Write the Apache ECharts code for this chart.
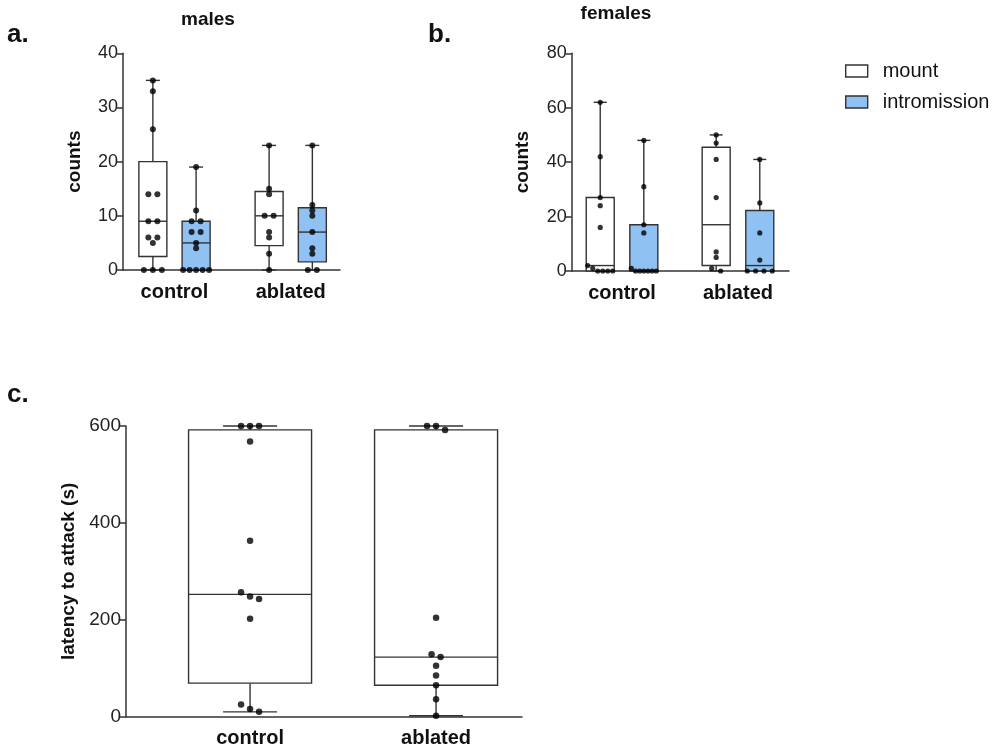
<!DOCTYPE html>
<html><head><meta charset="utf-8">
<script src="https://cdn.jsdelivr.net/npm/echarts@6/dist/echarts.min.js"></script>
<style>html,body{margin:0;padding:0;background:#fff}#c{width:1000px;height:754px}</style>
</head><body><div id="c"></div>
<script>
// ---------- data ----------
const groupNames = ['control', 'ablated'];
const seriesNames = ['mount', 'intromission'];

const malesTicks = [0, 10, 20, 30, 40];
const femalesTicks = [0, 20, 40, 60, 80];
const latencyTicks = [0, 200, 400, 600];

const malesControlMount = [35, 33, 26, 14, 14, 9, 9, 6, 6, 5, 0, 0, 0];
const malesControlIntro = [19, 11, 9, 9, 7, 7, 5, 4, 0, 0, 0, 0, 0];
const malesAblatedMount = [23, 15, 14, 10, 10, 7, 6, 3, 0];
const malesAblatedIntro = [23, 12, 11, 10, 7, 4, 3, 0, 0];

const femalesControlMount = [62, 42, 27, 24, 16, 2, 1, 0, 0, 0, 0];
const femalesControlIntro = [48, 31, 17, 14, 1, 0, 0, 0, 0, 0, 0];
const femalesAblatedMount = [50, 47, 41, 27, 7, 5, 1, 0];
const femalesAblatedIntro = [41, 25, 14, 4, 0, 0, 0, 0];

const latencyControl = [600, 600, 600, 568, 363, 257, 248, 243, 202, 25, 16, 10];
const latencyAblated = [600, 600, 592, 204, 129, 123, 105, 85, 65, 36, 2];

// ---------- helpers ----------
const FONT = "'Liberation Sans', Arial, sans-serif";
const INK = '#333';
const BLUE = '#8fc2f3';

function pct(sorted, p) { // (n+1)p percentile
  const n = sorted.length;
  const pos = (n + 1) * p;
  if (pos <= 1) return sorted[0];
  if (pos >= n) return sorted[n - 1];
  const lo = Math.floor(pos), f = pos - lo;
  return sorted[lo - 1] + f * (sorted[lo] - sorted[lo - 1]);
}
function stats(vals, x) {
  const s = vals.slice().sort((a, b) => a - b);
  return [x, s[0], pct(s, 0.25), pct(s, 0.5), pct(s, 0.75), s[s.length - 1]];
}
function swarm(values, center, pxX, pxY, tolPx, spacePx, maxSpreadPx) {
  const sorted = values.slice().sort((a, b) => b - a);
  const clusters = []; let cur = [];
  sorted.forEach(v => {
    if (cur.length && Math.abs(cur[cur.length - 1] - v) * pxY >= tolPx) { clusters.push(cur); cur = []; }
    cur.push(v);
  });
  if (cur.length) clusters.push(cur);
  const pts = [];
  clusters.forEach(cl => {
    const k = cl.length;
    const s = k > 1 ? Math.min(spacePx, maxSpreadPx / (k - 1)) : 0;
    cl.forEach((v, i) => pts.push([center + (i - (k - 1) / 2) * s / pxX, v]));
  });
  return pts;
}
function boxRender(boxW, capW, fill) {
  return function (params, api) {
    const x = api.value(0);
    const ys = [1, 2, 3, 4, 5].map(i => api.coord([x, api.value(i)])[1]);
    const cx = api.coord([x, 0])[0];
    const [pMin, pQ1, pMed, pQ3, pMax] = ys;
    const st = { stroke: INK, lineWidth: 1.4 };
    return {
      type: 'group', children: [
        { type: 'line', shape: { x1: cx, y1: pMin, x2: cx, y2: pQ1 }, style: st },
        { type: 'line', shape: { x1: cx, y1: pQ3, x2: cx, y2: pMax }, style: st },
        { type: 'line', shape: { x1: cx - capW / 2, y1: pMin, x2: cx + capW / 2, y2: pMin }, style: st },
        { type: 'line', shape: { x1: cx - capW / 2, y1: pMax, x2: cx + capW / 2, y2: pMax }, style: st },
        { type: 'rect', shape: { x: cx - boxW / 2, y: pQ3, width: boxW, height: pQ1 - pQ3 }, style: { fill: fill, stroke: INK, lineWidth: 1.4 } },
        { type: 'line', shape: { x1: cx - boxW / 2, y1: pMed, x2: cx + boxW / 2, y2: pMed }, style: st }
      ]
    };
  };
}

// ---------- layout ----------
const panels = [
  { grid: { left: 123, top: 53.3, width: 217, height: 216.7 }, xmin: 0.557, xmax: 2.424, ticks: malesTicks, name: 'counts', off: 0.186,
    boxW: 28, capW: 14, dot: 6, space: 9, spread: 26,
    sets: [[malesControlMount, malesAblatedMount], [malesControlIntro, malesAblatedIntro]] },
  { grid: { left: 571.7, top: 53.3, width: 217.3, height: 217.7 }, xmin: 0.566, xmax: 2.44, ticks: femalesTicks, name: 'counts', off: 0.188,
    boxW: 28, capW: 13, dot: 5.2, space: 9, spread: 25,
    sets: [[femalesControlMount, femalesAblatedMount], [femalesControlIntro, femalesAblatedIntro]] },
  { grid: { left: 126, top: 426, width: 396, height: 290.7 }, xmin: 0.333, xmax: 2.462, ticks: latencyTicks, name: 'latency to attack (s)', off: 0,
    boxW: 123, capW: 54, dot: 6.5, space: 9, spread: 60,
    sets: [[latencyControl, latencyAblated]] }
];

const grids = [], xAxes = [], yAxes = [], series = [];
const axisLineStyle = { color: INK, width: 1.5 };
panels.forEach((p, pi) => {
  grids.push(p.grid);
  const tmax = p.ticks[p.ticks.length - 1];
  xAxes.push({
    gridIndex: pi, type: 'value', min: p.xmin, max: p.xmax,
    axisLine: { show: true, onZero: false, lineStyle: axisLineStyle },
    axisTick: { show: false }, splitLine: { show: false },
    axisLabel: { customValues: [1, 2], formatter: v => groupNames[Math.round(v) - 1],
      fontSize: 20, fontWeight: 'bold', color: '#111', margin: 12, fontFamily: FONT }
  });
  yAxes.push({
    gridIndex: pi, type: 'value', min: p.ticks[0], max: tmax, interval: p.ticks[1] - p.ticks[0],
    axisLine: { show: true, lineStyle: axisLineStyle },
    axisTick: { show: true, length: 6, lineStyle: axisLineStyle }, splitLine: { show: false },
    axisLabel: { fontSize: pi === 2 ? 19 : 18, color: '#222', margin: 5, fontFamily: FONT },
    name: p.name, nameLocation: 'middle', nameGap: pi === 2 ? 48 : 39,
    nameTextStyle: { fontSize: 19, fontWeight: 'bold', color: '#111', fontFamily: FONT }
  });
  const pxX = p.grid.width / (p.xmax - p.xmin);
  const pxY = p.grid.height / (tmax - p.ticks[0]);
  p.sets.forEach((pair, si) => {
    const offset = p.sets.length === 2 ? (si === 0 ? -p.off : p.off) : 0;
    const fill = (pi < 2 && si === 1) ? BLUE : '#fff';
    const sName = pi < 2 ? seriesNames[si] : 'latency';
    series.push({
      type: 'custom', name: sName, xAxisIndex: pi, yAxisIndex: pi, clip: false,
      renderItem: boxRender(p.boxW, p.capW, fill),
      itemStyle: { color: fill, borderColor: INK, borderWidth: 1.4 },
      encode: { x: 0, y: [1, 2, 3, 4, 5] },
      data: pair.map((vals, gi) => stats(vals, gi + 1 + offset)), z: 2
    });
    const pts = [];
    pair.forEach((vals, gi) => {
      swarm(vals, gi + 1 + offset, pxX, pxY, 5, p.space, p.spread).forEach(pt => pts.push(pt));
    });
    series.push({
      type: 'scatter', name: 'pts' + pi + si, xAxisIndex: pi, yAxisIndex: pi, clip: false,
      symbol: 'circle', symbolSize: p.dot, itemStyle: { color: '#000' }, silent: true,
      data: pts, z: 5
    });
  });
});

const chart = echarts.init(document.getElementById('c'), null, { renderer: 'canvas' });
chart.setOption({
  animation: false,
  backgroundColor: '#fff',
  textStyle: { fontFamily: FONT },
  title: [
    { text: 'a.', left: 7, top: 22, padding: 0, textStyle: { fontSize: 26, fontWeight: 'bold', color: '#111', fontFamily: FONT } },
    { text: 'males', left: 208, top: 10, padding: 0, textAlign: 'center', textStyle: { fontSize: 19, fontWeight: 'bold', color: '#111', fontFamily: FONT } },
    { text: 'b.', left: 428, top: 22, padding: 0, textStyle: { fontSize: 26, fontWeight: 'bold', color: '#111', fontFamily: FONT } },
    { text: 'females', left: 616, top: 4, padding: 0, textAlign: 'center', textStyle: { fontSize: 19, fontWeight: 'bold', color: '#111', fontFamily: FONT } },
    { text: 'c.', left: 7, top: 382, padding: 0, textStyle: { fontSize: 26, fontWeight: 'bold', color: '#111', fontFamily: FONT } }
  ],
  legend: {
    left: 845, top: 61, orient: 'vertical', icon: 'rect', itemWidth: 22, itemHeight: 12, itemGap: 11,
    selectedMode: false, padding: 0,
    textStyle: { fontSize: 20, color: '#111', fontFamily: FONT, padding: [0, 0, 0, 10] },
    data: [
      { name: seriesNames[0], itemStyle: { color: '#fff', borderColor: INK, borderWidth: 1.4 } },
      { name: seriesNames[1], itemStyle: { color: BLUE, borderColor: INK, borderWidth: 1.4 } }
    ]
  },
  grid: grids, xAxis: xAxes, yAxis: yAxes, series: series
});
</script>
</body></html>
